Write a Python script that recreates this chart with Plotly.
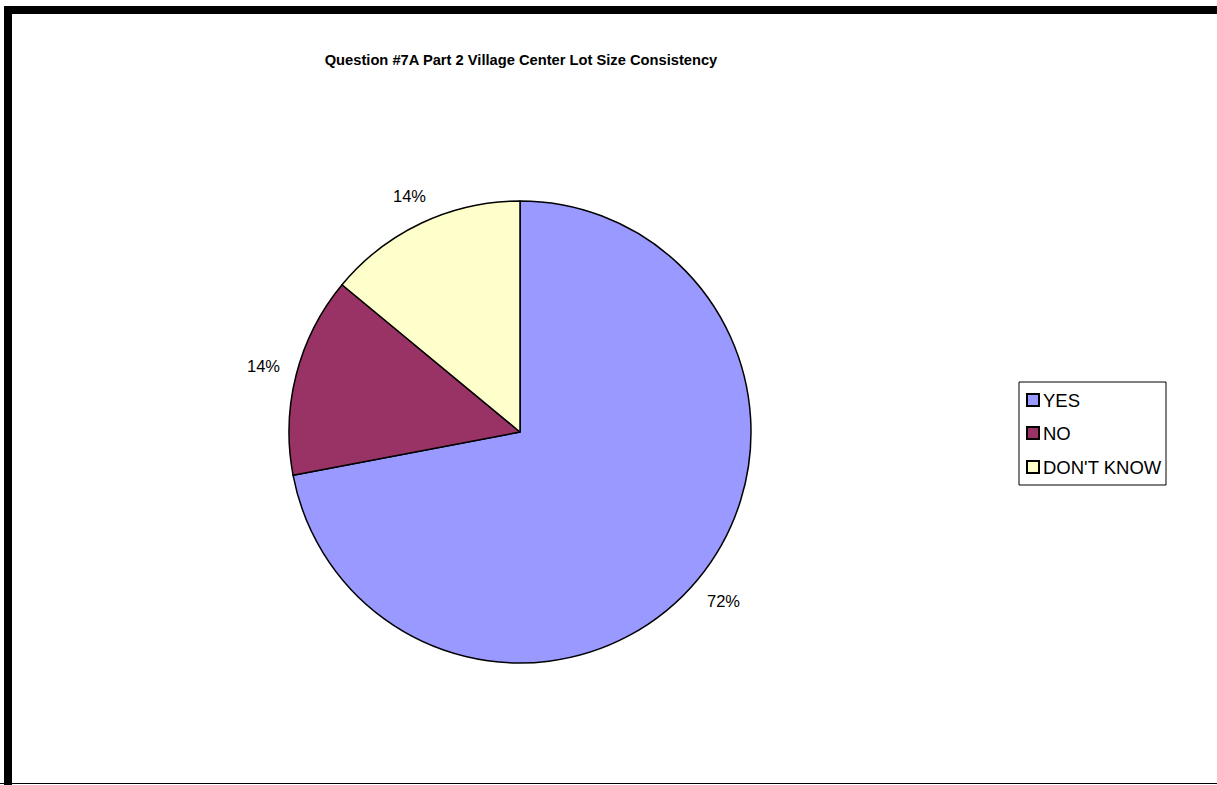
import math
import plotly.graph_objects as go

# Survey answers and their share of responses (percent)
categories = ["YES", "NO", "DON'T KNOW"]
values = [72, 14, 14]
colors = ["#9999FF", "#993366", "#FFFFCC"]

W, H = 1217, 785
FONT = "Arial, Liberation Sans, sans-serif"

# Pie placement in pixels
CX, CY, R = 520, 432, 231

fig = go.Figure()

fig.add_trace(go.Pie(
    labels=categories,
    values=values,
    sort=False,
    direction="clockwise",
    rotation=0,
    marker=dict(colors=colors, line=dict(color="black", width=1.5)),
    textinfo="none",
    showlegend=False,
    hoverinfo="label+percent",
    domain=dict(x=[(CX - R) / W, (CX + R) / W],
                y=[(H - CY - R) / H, (H - CY + R) / H]),
))

annotations = []
shapes = []

# Percentage labels just outside each slice, at the slice's mid angle
total = sum(values)
cum = 0
for v in values:
    mid = (cum + v / 2) / total * 2 * math.pi
    cum += v
    s, c = math.sin(mid), math.cos(mid)
    d = R + 16 + abs(s) * 17 + abs(c) * 7
    px, py = CX + d * s, CY - d * c
    annotations.append(dict(
        x=px / W, y=1 - py / H, xref="paper", yref="paper",
        text=f"{round(v / total * 100)}%", showarrow=False,
        xanchor="center", yanchor="middle",
        font=dict(family=FONT, size=16.5, color="black"),
    ))

# Legend box with square swatches
LX0, LX1, LY0, LY1 = 1019, 1166, 382, 485
row_y = [400, 433, 467]
shapes.append(dict(type="rect", xref="paper", yref="paper",
                   x0=LX0 / W, x1=LX1 / W, y0=1 - LY1 / H, y1=1 - LY0 / H,
                   line=dict(color="black", width=1), fillcolor="white"))
for name, col, ry in zip(categories, colors, row_y):
    shapes.append(dict(type="rect", xref="paper", yref="paper",
                       x0=1027 / W, x1=1039 / W,
                       y0=1 - (ry + 6) / H, y1=1 - (ry - 6) / H,
                       line=dict(color="black", width=2), fillcolor=col))
    annotations.append(dict(
        x=1041 / W, y=1 - ry / H, xref="paper", yref="paper",
        text=name, showarrow=False, xanchor="left", yanchor="middle",
        font=dict(family=FONT, size=18.5, color="black"),
    ))

# Outer frame
shapes.append(dict(type="rect", xref="paper", yref="paper",
                   x0=8 / W, x1=1 + 6 / W, y0=-6 / H, y1=1 - 10 / H,
                   line=dict(color="black", width=8),
                   fillcolor="rgba(0,0,0,0)"))
shapes.append(dict(type="line", xref="paper", yref="paper",
                   x0=0, x1=1, y0=1.5 / H, y1=1.5 / H,
                   line=dict(color="black", width=1)))

fig.update_layout(
    width=W, height=H,
    margin=dict(l=0, r=0, t=0, b=0),
    paper_bgcolor="white",
    plot_bgcolor="white",
    xaxis=dict(visible=False),
    yaxis=dict(visible=False),
    title=dict(
        text="<b>Question #7A Part 2 Village Center Lot Size Consistency</b>",
        x=521 / W, xanchor="center", y=1 - 60 / H, yanchor="middle",
        font=dict(family=FONT, size=14.7, color="black"),
    ),
    annotations=annotations,
    shapes=shapes,
)

fig.write_html("out.html")
